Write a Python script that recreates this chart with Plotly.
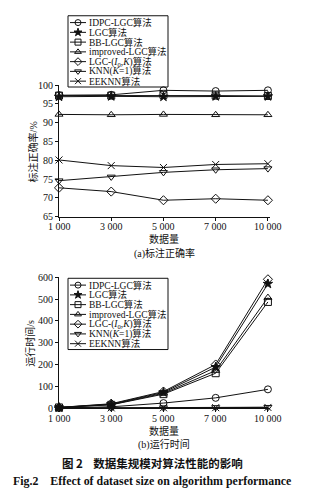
import plotly.graph_objects as go

# ---- data ----
sizes = ["1 000", "3 000", "5 000", "7 000", "10 000"]
names = ["IDPC-LGC算法", "LGC算法", "BB-LGC算法", "improved-LGC算法",
         "LGC-(<i>I</i><sub>0</sub>,<i>K</i>)算法", "KNN(<i>K</i>=1)算法", "EEKNN算法"]

acc_idpc = [97.3, 97.4, 98.6, 98.4, 98.6]
acc_lgc = [96.9, 97.0, 96.9, 97.0, 97.0]
acc_bb = [97.2, 97.2, 97.4, 97.2, 97.1]
acc_improved = [92.2, 92.1, 92.2, 92.1, 92.1]
acc_lgc_i0k = [72.7, 71.7, 69.4, 69.8, 69.4]
acc_knn = [74.6, 75.6, 76.8, 77.5, 77.8]
acc_eeknn = [80.1, 78.6, 78.1, 78.9, 79.1]

time_idpc = [1, 6, 23, 47, 86]
time_lgc = [3, 18, 72, 188, 570]
time_bb = [3, 15, 64, 160, 487]
time_improved = [3, 16, 68, 172, 507]
time_lgc_i0k = [3, 20, 76, 200, 591]
time_knn = [0.5, 1, 2, 3, 4]
time_eeknn = [0.5, 1, 1.5, 2, 3]

acc_series = [acc_idpc, acc_lgc, acc_bb, acc_improved, acc_lgc_i0k, acc_knn, acc_eeknn]
time_series = [time_idpc, time_lgc, time_bb, time_improved, time_lgc_i0k, time_knn, time_eeknn]

# ---- style ----
W, H = 326, 499
SERIF = "Liberation Serif, Noto Sans CJK SC, serif"
symbols = ["circle-open", "star", "square-open", "triangle-up-open",
           "diamond-open", "triangle-down-open", "x-thin-open"]
msizes = [7, 7, 7, 7, 7, 7, 7]
INK = "#111111"

def px(x):
    return x / W

def py(y):
    return 1 - y / H

xidx = list(range(len(sizes)))
fig = go.Figure()

for k in range(len(names)):
    fig.add_trace(go.Scatter(
        x=xidx, y=acc_series[k], xaxis="x", yaxis="y", mode="lines+markers",
        line=dict(color=INK, width=1), cliponaxis=False, showlegend=False,
        marker=dict(symbol=symbols[k], size=msizes[k], color=INK,
                    line=dict(color=INK, width=1))))
    fig.add_trace(go.Scatter(
        x=xidx, y=time_series[k], xaxis="x2", yaxis="y2", mode="lines+markers",
        line=dict(color=INK, width=1), cliponaxis=False, showlegend=False,
        marker=dict(symbol=symbols[k], size=msizes[k], color=INK,
                    line=dict(color=INK, width=1))))

# ---- hand-built compact legends (pixel overlay axis) ----
def legend_box(top, left=68, right=168, row0=7, step=10):
    fig.add_shape(type="rect", xref="paper", yref="paper",
                  x0=px(left), x1=px(right), y0=py(top), y1=py(top + 73),
                  line=dict(color=INK, width=1), fillcolor="white", layer="below")
    for k, name in enumerate(names):
        yy = top + row0 + k * step
        fig.add_trace(go.Scatter(
            x=[left + 2, left + 18], y=[yy, yy], xaxis="x3", yaxis="y3",
            mode="lines", line=dict(color=INK, width=1), showlegend=False,
            cliponaxis=False))
        fig.add_trace(go.Scatter(
            x=[left + 10], y=[yy], xaxis="x3", yaxis="y3", mode="markers",
            marker=dict(symbol=symbols[k], size=6, color=INK,
                        line=dict(color=INK, width=1)),
            showlegend=False, cliponaxis=False))
        fig.add_annotation(x=px(left + 20), y=py(yy), xref="paper", yref="paper",
                           text=name, showarrow=False, xanchor="left", borderpad=0,
                           yanchor="middle", font=dict(family=SERIF, size=9.5, color=INK))

legend_box(10)
legend_box(279)

# ---- text ----
def label(x, y, text, size=10, angle=0, family=SERIF):
    fig.add_annotation(x=px(x), y=py(y), xref="paper", yref="paper", text=text,
                       showarrow=False, textangle=angle, xanchor="center",
                       yanchor="middle", font=dict(family=family, size=size, color=INK))

# category labels under each x axis, placed close to the axis line
for xa, ypix in (("x", 226), ("x2", 423)):
    for i, s in enumerate(sizes):
        fig.add_annotation(x=i, y=py(ypix), xref=xa, yref="paper", text=s,
                           showarrow=False, xanchor="center", yanchor="middle",
                           borderpad=0, font=dict(family=SERIF, size=10, color=INK))

label(33, 150, "标注正确率/%", angle=-90)
label(30, 346, "运行时间/s", angle=-90)
label(164, 239, "数据量")
label(164, 254, "(a)标注正确率")
label(164, 435, "数据量")
label(164, 449, "(b)运行时间")
label(152, 468, "<b>图 2    数据集规模对算法性能的影响</b>", size=11.5,
      family="Noto Sans CJK SC, sans-serif")
label(152, 487, "<b>Fig.2    Effect of dataset size on algorithm performance</b>", size=11.9)

axis_common = dict(showline=True, linecolor=INK, linewidth=1, showgrid=False,
                   zeroline=False, ticks="outside", ticklen=3, tickcolor=INK,
                   tickfont=dict(family=SERIF, size=10, color=INK))
xdom = [px(59), px(270)]

fig.update_layout(
    width=W, height=H, margin=dict(l=0, r=0, t=0, b=0),
    paper_bgcolor="white", plot_bgcolor="rgba(0,0,0,0)",
    xaxis=dict(domain=xdom, range=[0, 4.04], anchor="y", tickvals=xidx,
               showticklabels=False, **axis_common),
    yaxis=dict(domain=[py(216), py(81)], range=[65, 100], anchor="x",
               dtick=5, **axis_common),
    xaxis2=dict(domain=xdom, range=[0, 4.04], anchor="y2", tickvals=xidx,
                showticklabels=False, **axis_common),
    yaxis2=dict(domain=[py(412), py(278)], range=[0, 600], anchor="x2",
                dtick=100, **axis_common),
    xaxis3=dict(domain=[0, 1], range=[0, W], anchor="y3", visible=False),
    yaxis3=dict(domain=[0, 1], range=[H, 0], anchor="x3", visible=False),
)

fig.write_html("out.html")
